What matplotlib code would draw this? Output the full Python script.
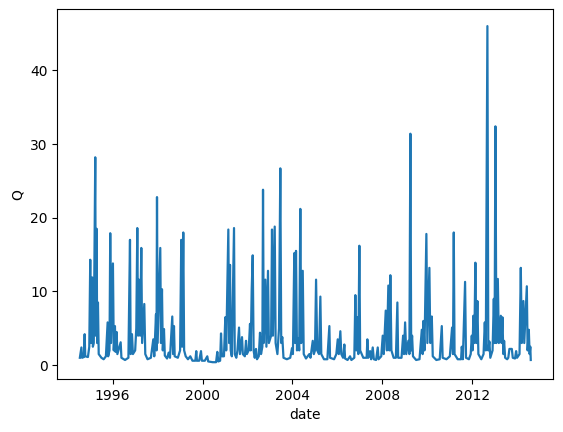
import matplotlib
matplotlib.use("Agg")
import matplotlib.pyplot as plt
import pandas as pd
import numpy as np

# decimal-year time stamps and discharge values
year = [
    1994.54, 1994.61, 1994.64, 1994.72, 1994.754, 1994.78, 1994.90, 1994.96, 1995.003, 1995.03,
    1995.06, 1995.092, 1995.12, 1995.16, 1995.226, 1995.25, 1995.288, 1995.31, 1995.346, 1995.38,
    1995.50, 1995.60, 1995.70, 1995.777, 1995.80, 1995.86, 1995.893, 1995.93, 1996.013, 1996.05,
    1996.102, 1996.13, 1996.178, 1996.21, 1996.356, 1996.39, 1996.55, 1996.70, 1996.770, 1996.80,
    1996.859, 1996.90, 1997.00, 1997.05, 1997.095, 1997.13, 1997.170, 1997.22, 1997.273, 1997.31,
    1997.406, 1997.45, 1997.55, 1997.70, 1997.807, 1997.85, 1997.927, 1997.95, 1997.972, 1998.00,
    1998.118, 1998.15, 1998.194, 1998.23, 1998.283, 1998.32, 1998.42, 1998.492, 1998.55, 1998.652,
    1998.69, 1998.728, 1998.76, 1998.90, 1999.00, 1999.053, 1999.09, 1999.142, 1999.18, 1999.25,
    1999.35, 1999.454, 1999.55, 1999.68, 1999.720, 1999.75, 1999.85, 1999.930, 1999.97, 2000.10,
    2000.210, 2000.25, 2000.45, 2000.60, 2000.655, 2000.70, 2000.78, 2000.820, 2000.86, 2000.95,
    2001.011, 2001.05, 2001.145, 2001.18, 2001.220, 2001.25, 2001.30, 2001.398, 2001.43, 2001.50,
    2001.55, 2001.621, 2001.66, 2001.754, 2001.79, 2001.88, 2001.932, 2001.97, 2002.05, 2002.110,
    2002.14, 2002.186, 2002.230, 2002.27, 2002.32, 2002.377, 2002.42, 2002.50, 2002.555, 2002.60,
    2002.66, 2002.689, 2002.72, 2002.791, 2002.84, 2002.911, 2002.95, 2003.05, 2003.089, 2003.13,
    2003.210, 2003.25, 2003.33, 2003.401, 2003.459, 2003.50, 2003.548, 2003.60, 2003.75, 2003.90,
    2003.980, 2004.02, 2004.082, 2004.12, 2004.157, 2004.20, 2004.260, 2004.30, 2004.349, 2004.39,
    2004.456, 2004.50, 2004.60, 2004.749, 2004.80, 2004.901, 2004.95, 2005.00, 2005.048, 2005.10,
    2005.18, 2005.239, 2005.28, 2005.40, 2005.55, 2005.640, 2005.67, 2005.85, 2005.95, 2006.013,
    2006.06, 2006.129, 2006.17, 2006.25, 2006.307, 2006.34, 2006.45, 2006.561, 2006.62, 2006.75,
    2006.797, 2006.84, 2006.886, 2006.93, 2006.975, 2007.01, 2007.15, 2007.30, 2007.331, 2007.37,
    2007.451, 2007.50, 2007.571, 2007.62, 2007.72, 2007.794, 2007.83, 2007.95, 2008.016, 2008.06,
    2008.149, 2008.20, 2008.265, 2008.31, 2008.354, 2008.40, 2008.50, 2008.60, 2008.666, 2008.70,
    2008.85, 2008.920, 2008.96, 2009.009, 2009.06, 2009.155, 2009.20, 2009.244, 2009.28, 2009.320,
    2009.36, 2009.50, 2009.65, 2009.752, 2009.79, 2009.823, 2009.87, 2009.956, 2010.00, 2010.090,
    2010.13, 2010.197, 2010.24, 2010.40, 2010.55, 2010.597, 2010.642, 2010.68, 2010.85, 2011.00,
    2011.100, 2011.14, 2011.176, 2011.21, 2011.35, 2011.50, 2011.532, 2011.58, 2011.679, 2011.72,
    2011.85, 2011.93, 2011.977, 2012.01, 2012.048, 2012.09, 2012.137, 2012.18, 2012.226, 2012.27,
    2012.40, 2012.50, 2012.555, 2012.60, 2012.671, 2012.71, 2012.760, 2012.80, 2012.90, 2012.956,
    2012.99, 2013.027, 2013.07, 2013.134, 2013.18, 2013.268, 2013.30, 2013.339, 2013.38, 2013.414,
    2013.46, 2013.55, 2013.60, 2013.650, 2013.757, 2013.80, 2013.90, 2013.948, 2013.99, 2014.10,
    2014.157, 2014.20, 2014.273, 2014.31, 2014.425, 2014.46, 2014.513, 2014.55, 2014.58, 2014.60,
]
q = [
    1.0, 2.4, 1.0, 1.1, 4.2, 1.2, 1.1, 2.5, 14.3, 3.0,
    5.0, 11.9, 2.5, 3.0, 28.2, 4.0, 18.5, 3.0, 8.5, 1.5,
    1.0, 0.8, 1.2, 5.8, 1.2, 2.0, 17.9, 3.0, 13.8, 2.0,
    5.3, 1.8, 4.5, 1.5, 3.1, 1.0, 0.7, 1.0, 17.0, 1.5,
    4.2, 1.5, 2.0, 5.0, 18.6, 4.0, 11.6, 4.0, 15.9, 3.0,
    8.3, 1.5, 0.8, 1.0, 3.5, 1.2, 6.9, 2.0, 22.8, 3.0,
    15.9, 3.0, 10.3, 2.0, 4.9, 1.3, 0.9, 1.7, 1.0, 6.6,
    1.5, 5.3, 1.2, 1.0, 2.0, 17.0, 2.5, 18.0, 2.0, 1.2,
    0.8, 1.2, 0.6, 0.6, 1.9, 0.6, 0.6, 1.9, 0.6, 0.6,
    1.2, 0.5, 0.4, 0.4, 1.8, 0.5, 0.6, 4.3, 1.2, 1.2,
    6.5, 2.0, 18.4, 3.0, 13.6, 2.0, 1.2, 18.6, 1.5, 1.0,
    2.0, 5.1, 1.5, 3.8, 1.5, 1.2, 3.3, 1.5, 2.0, 5.6,
    2.0, 10.3, 14.9, 2.0, 1.0, 2.2, 0.8, 1.2, 4.4, 1.5,
    2.5, 23.8, 3.0, 11.6, 2.5, 12.8, 3.0, 4.0, 18.4, 4.0,
    18.8, 3.0, 1.5, 5.0, 26.7, 3.0, 3.8, 1.0, 0.8, 1.0,
    2.3, 1.5, 15.2, 3.0, 15.5, 2.0, 3.6, 2.0, 21.2, 3.0,
    12.8, 1.5, 0.9, 1.5, 1.0, 3.3, 1.5, 2.0, 11.6, 2.0,
    1.5, 9.3, 1.5, 0.8, 0.8, 5.3, 1.0, 0.8, 1.5, 3.5,
    1.5, 4.6, 1.5, 1.0, 2.8, 0.9, 0.7, 1.2, 0.7, 1.0,
    9.5, 2.0, 6.5, 1.5, 16.2, 2.0, 1.0, 1.0, 3.5, 1.0,
    1.9, 0.8, 2.4, 0.8, 0.7, 2.4, 0.8, 1.2, 4.0, 1.5,
    7.4, 2.0, 10.8, 2.0, 12.2, 2.0, 1.0, 1.0, 8.5, 1.0,
    1.0, 4.0, 1.5, 5.8, 1.5, 3.3, 1.5, 31.4, 2.0, 4.0,
    1.2, 0.7, 0.8, 4.8, 1.5, 6.0, 2.0, 17.8, 3.0, 13.2,
    3.0, 6.6, 1.2, 0.7, 0.8, 3.2, 5.3, 1.0, 0.8, 1.2,
    5.1, 1.5, 18.0, 1.5, 0.8, 0.8, 2.5, 0.8, 11.3, 1.0,
    0.8, 1.5, 4.0, 2.0, 6.7, 3.0, 13.9, 3.0, 8.7, 1.5,
    0.8, 1.5, 5.8, 2.0, 46.0, 2.0, 3.2, 1.0, 2.0, 9.0,
    3.0, 32.4, 3.0, 11.7, 3.0, 6.7, 3.0, 6.5, 1.5, 3.3,
    1.0, 0.8, 1.0, 2.2, 2.2, 1.0, 0.9, 1.9, 1.0, 1.5,
    13.2, 3.0, 8.7, 3.0, 10.7, 2.0, 4.8, 1.5, 2.5, 0.7,
]


def to_datetime(y):
    yi = int(np.floor(y))
    start = pd.Timestamp(year=yi, month=1, day=1)
    end = pd.Timestamp(year=yi + 1, month=1, day=1)
    return start + (end - start) * (y - yi)


date = [to_datetime(y) for y in year]

fig = plt.figure(figsize=(5.63, 4.32), dpi=100)
ax = fig.add_axes([57.3 / 563, (432 - 379) / 432, 496 / 563, 369.7 / 432])
ax.plot(date, q, color="#1f77b4", linewidth=1.6)
ax.set_xlabel("date")
ax.set_ylabel("Q")
fig.savefig("out.png", dpi=100)
